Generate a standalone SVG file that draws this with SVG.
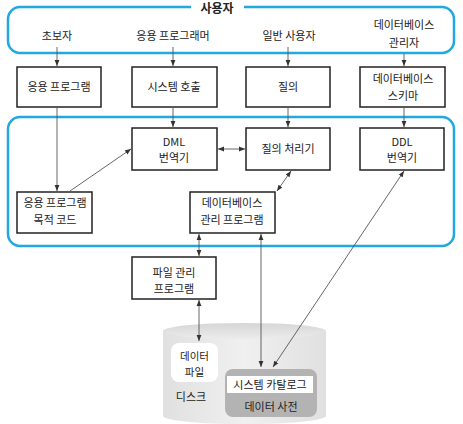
<svg xmlns="http://www.w3.org/2000/svg" width="463" height="424" viewBox="0 0 463 424">
<defs>
<style>
text{font-family:"Noto Sans CJK KR","Noto Sans",sans-serif;font-size:11px;fill:#222;text-anchor:middle}
.b{fill:#fff;stroke:#222;stroke-width:1.5}
.grp{fill:none;stroke:#22a8e0;stroke-width:2.5}
.c{fill:none;stroke:#555;stroke-width:0.9}
.ttl{font-size:12px;font-weight:bold}
.sm{font-size:10.5px}
</style>
<marker id="ah" viewBox="0 0 6 6" refX="6" refY="3" markerWidth="6" markerHeight="6" markerUnits="userSpaceOnUse" orient="auto-start-reverse">
<path d="M0,0.6 L6,3 L0,5.4z" fill="#333"/>
</marker>
<linearGradient id="cyl" x1="0" x2="1" y1="0" y2="0">
<stop offset="0" stop-color="#e0e0e0"/>
<stop offset="0.5" stop-color="#f0f0f0"/>
<stop offset="1" stop-color="#e0e0e0"/>
</linearGradient>
<linearGradient id="cyltop" x1="0" x2="0" y1="0" y2="1">
<stop offset="0" stop-color="#d6d6d6"/>
<stop offset="1" stop-color="#ececec"/>
</linearGradient>
</defs>
<rect width="463" height="424" fill="#fff"/>

<g id="users">
<rect class="grp" x="8" y="7" width="446" height="46" rx="12"/>
<rect x="191" y="0" width="53" height="14" fill="#fff"/>
<text class="ttl" x="217" y="13">사용자</text>
<text x="57" y="40">초보자</text>
<text x="173" y="40">응용 프로그래머</text>
<text x="289" y="40">일반 사용자</text>
<text x="404" y="29">데이터베이스</text>
<text x="404" y="47">관리자</text>
</g>

<g id="dbms">
<rect class="grp" x="8" y="117" width="446" height="129" rx="12"/>
</g>

<g id="app"><rect class="b" x="17" y="67" width="84" height="40"/><text x="59" y="91">응용 프로그램</text></g>
<g id="syscall"><rect class="b" x="132" y="67" width="85" height="40"/><text x="174" y="91">시스템 호출</text></g>
<g id="query"><rect class="b" x="246" y="67" width="84" height="40"/><text x="288" y="91">질의</text></g>
<g id="schema"><rect class="b" x="360" y="67" width="85" height="40"/><text x="403" y="83">데이터베이스</text><text x="403" y="100">스키마</text></g>

<g id="dml"><rect class="b" x="132" y="128" width="85" height="42"/><text x="174" y="146">DML</text><text x="174" y="162">번역기</text></g>
<g id="qproc"><rect class="b" x="246" y="128" width="84" height="42"/><text x="288" y="153">질의 처리기</text></g>
<g id="ddl"><rect class="b" x="360" y="128" width="84" height="42"/><text x="402" y="146">DDL</text><text x="402" y="162">번역기</text></g>

<g id="objcode"><rect class="b" x="17" y="192" width="75" height="41"/><text x="55" y="207">응용 프로그램</text><text x="55" y="224">목적 코드</text></g>
<g id="dbmgr"><rect class="b" x="190" y="192" width="85" height="41"/><text x="232" y="207">데이터베이스</text><text x="232" y="224">관리 프로그램</text></g>

<g id="filemgr"><rect class="b" x="132" y="257" width="84" height="42"/><text x="174" y="277">파일 관리</text><text x="174" y="293">프로그램</text></g>

<g id="disk">
<path d="M163,331 V416 A81.5,8 0 0 0 326,416 V331z" fill="url(#cyl)"/>
<ellipse cx="244.5" cy="331" rx="81.5" ry="8" fill="url(#cyltop)"/>
<text x="191" y="401">디스크</text>
</g>
<g id="datafile">
<rect x="171" y="343" width="47" height="39" rx="8" fill="#fff"/>
<text class="sm" x="194.5" y="360">데이터</text><text class="sm" x="194.5" y="376">파일</text>
</g>
<g id="dict">
<rect x="225" y="369" width="92" height="48" rx="8" fill="#b3b3b3"/>
<rect x="227" y="376" width="86" height="17" fill="#fff"/>
<text x="270" y="389">시스템 카탈로그</text>
<text x="271" y="411">데이터 사전</text>
</g>

<g id="connectors" class="c">
<line x1="57" y1="47" x2="57" y2="66" marker-end="url(#ah)"/>
<line x1="173" y1="47" x2="173" y2="66" marker-end="url(#ah)"/>
<line x1="288" y1="47" x2="288" y2="66" marker-end="url(#ah)"/>
<line x1="404" y1="54" x2="404" y2="66" marker-end="url(#ah)"/>
<line x1="57" y1="107" x2="57" y2="191" marker-end="url(#ah)"/>
<line x1="173" y1="107" x2="173" y2="127" marker-end="url(#ah)"/>
<line x1="288" y1="107" x2="288" y2="127" marker-end="url(#ah)"/>
<line x1="404" y1="107" x2="404" y2="127" marker-end="url(#ah)"/>
<line x1="70" y1="191" x2="131" y2="149" marker-end="url(#ah)"/>
<line x1="218" y1="149" x2="245" y2="149" marker-start="url(#ah)" marker-end="url(#ah)"/>
<line x1="277" y1="191" x2="291" y2="171" marker-start="url(#ah)" marker-end="url(#ah)"/>
<line x1="199" y1="234" x2="199" y2="256" marker-start="url(#ah)" marker-end="url(#ah)"/>
<line x1="199" y1="300" x2="199" y2="341" marker-start="url(#ah)" marker-end="url(#ah)"/>
<line x1="261" y1="234" x2="261" y2="367" marker-start="url(#ah)" marker-end="url(#ah)"/>
<line x1="404" y1="171" x2="273" y2="367" marker-start="url(#ah)" marker-end="url(#ah)"/>
</g>
</svg>
